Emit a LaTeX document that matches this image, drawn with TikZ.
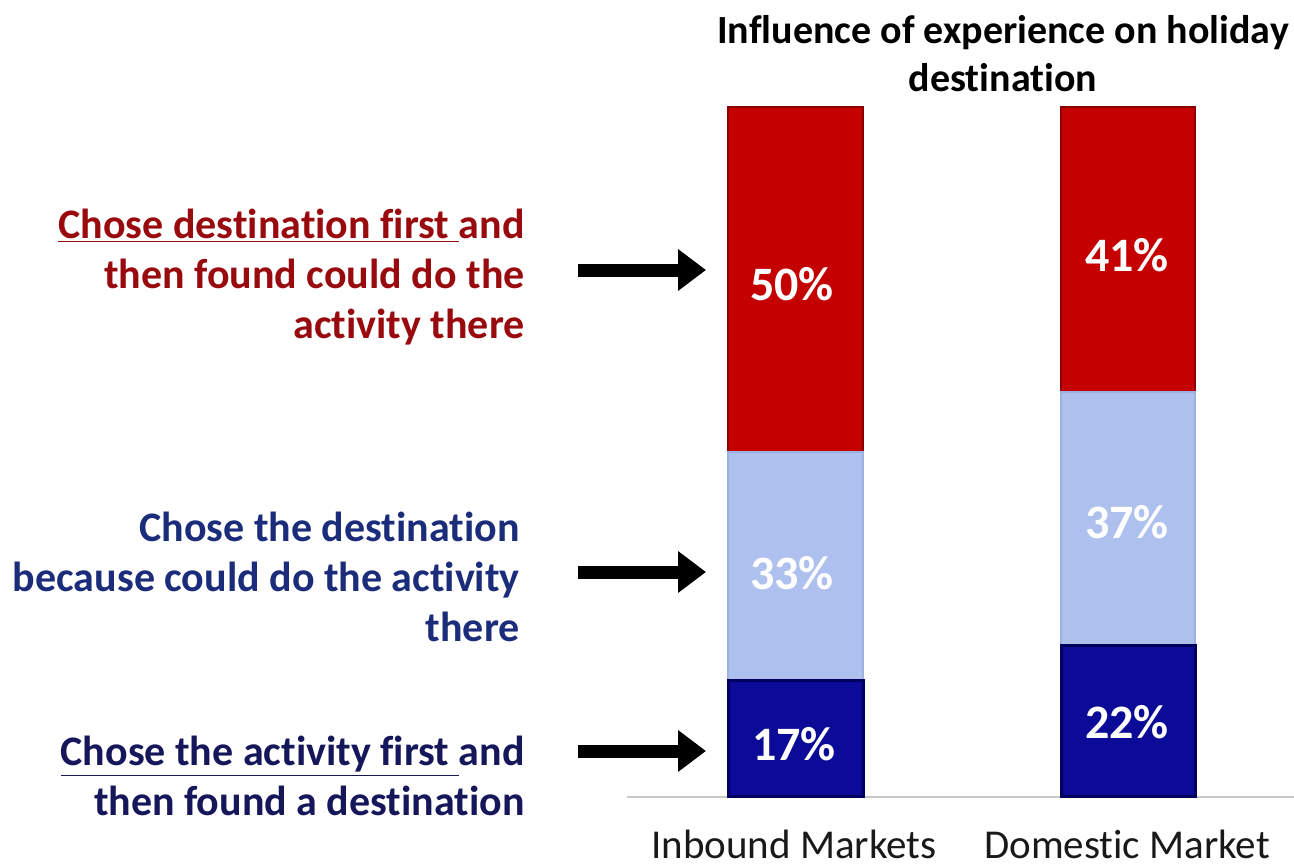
\documentclass[tikz,border=0pt]{standalone}
\usepackage{fontspec}
\setmainfont{Carlito}[Ligatures=NoCommon]
\usetikzlibrary{arrows.meta}
\definecolor{barred}{HTML}{C40000}
\definecolor{barredline}{HTML}{8A0000}
\definecolor{barlight}{HTML}{AEC1EE}
\definecolor{barlightline}{HTML}{9CB0E2}
\definecolor{barnavy}{HTML}{0B0B98}
\definecolor{barnavyline}{HTML}{00005E}
\definecolor{labred}{HTML}{980A0E}
\definecolor{labblue}{HTML}{1B2C7A}
\definecolor{labnavy}{HTML}{15175A}
\definecolor{axisgray}{HTML}{C8C8C8}
\begin{document}
\begin{tikzpicture}[x=0.5pt,y=-0.5pt,
  lbl/.style={anchor=east,align=right,inner sep=0pt,font=\fontsize{21pt}{25pt}\selectfont\bfseries},
  ttl/.style={align=center,inner sep=0pt,font=\fontsize{20pt}{24pt}\selectfont\bfseries},
  cat/.style={anchor=base,inner sep=0pt,font=\fontsize{20.5pt}{24pt}\selectfont,text=black!90},
  pct/.style={inner sep=0pt,text=white,font=\fontsize{24pt}{28pt}\selectfont\bfseries},
  redseg/.style={fill=barred,draw=barredline,line width=1pt},
  lightseg/.style={fill=barlight,draw=barlightline,line width=0.8pt},
  navyseg/.style={fill=barnavy,draw=barnavyline,line width=1.5pt},
  arr/.style={line width=6.5pt,-{Triangle[length=14pt,width=20pt]}},
]
\fill[white] (0,0) rectangle (1294,867);
\useasboundingbox (0,0) rectangle (1294,867);

% title
\node[ttl] (title) at (1003,54) {Influence of experience on holiday\\destination};

% axis
\coordinate (axl) at (627,797);
\coordinate (axr) at (1294,797);
\draw[axisgray,line width=1.2pt] (axl) -- (axr);

% inbound bar
\path[redseg] (728,107) rectangle (863,452);
\path[lightseg] (728,452) rectangle (863,680);
\path[navyseg] (728,680) rectangle (863,796);
% domestic bar
\path[redseg] (1061,107) rectangle (1195,392);
\path[lightseg] (1061,392) rectangle (1195,645);
\path[navyseg] (1061,645) rectangle (1195,796);

% percentages
\node[pct] (p50) at (792,284) {50\%};
\node[pct] (p33) at (792,573) {33\%};
\node[pct] (p17) at (794,744) {17\%};
\node[pct] (p41) at (1127,255) {41\%};
\node[pct] (p37) at (1127,522) {37\%};
\node[pct] (p22) at (1127,722) {22\%};

% category labels
\node[cat] (cin) at (794,858) {Inbound Markets};
\node[cat] (cdom) at (1127,858) {Domestic Market};

% left labels
\node[lbl,text=labred] (lred) at (525,277) {\underline{Chose destination first\ }and\\then found could do the\\activity there};
\node[lbl,text=labblue] (lblue) at (520,577) {Chose the destination\\because could do the activity\\there};
\node[lbl,text=labnavy] (lnavy) at (525,776) {\underline{Chose the activity first\ }and\\then found a destination};

% arrows
\coordinate (a1s) at (578,270); \coordinate (a1e) at (706,270);
\coordinate (a2s) at (578,572); \coordinate (a2e) at (706,572);
\coordinate (a3s) at (578,751); \coordinate (a3e) at (706,751);
\draw[arr] (a1s) -- (a1e);
\draw[arr] (a2s) -- (a2e);
\draw[arr] (a3s) -- (a3e);
\end{tikzpicture}
\end{document}
